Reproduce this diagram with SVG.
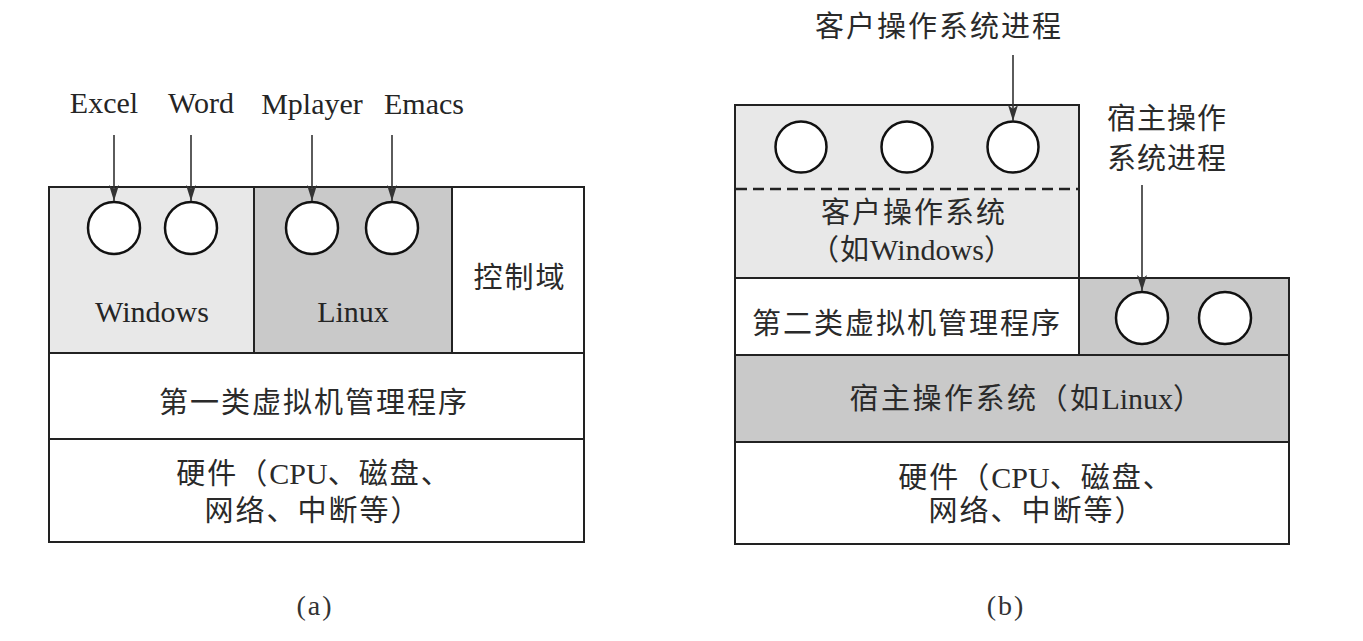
<svg xmlns="http://www.w3.org/2000/svg" width="1363" height="641" viewBox="0 0 1363 641">
<defs>
<style>
.bg{fill:#ffffff}
.box{stroke:#222;stroke-width:2}
.w{fill:#ffffff}
.light{fill:#e8e8e8}
.dark{fill:#c9c9c9}
.proc{fill:#ffffff;stroke:#111;stroke-width:2.5}
.lat{font-family:"Liberation Serif",serif;font-size:30px;fill:#252525}
.cjk{font-family:"Liberation Serif","Noto Sans CJK SC",sans-serif;font-size:29px;letter-spacing:2px;fill:#2a2a2a}
.tight{letter-spacing:0px;font-size:30px}
.cap{font-family:"Liberation Serif",serif;font-size:28px;letter-spacing:2px;fill:#333}
.conn{stroke:#333;stroke-width:1.6;fill:none;marker-end:url(#ah)}
.dash{stroke:#222;stroke-width:2.5;stroke-dasharray:11 6;fill:none}
</style>
<marker id="ah" viewBox="0 0 16 10" refX="16" refY="5" markerWidth="16" markerHeight="10" orient="auto" markerUnits="userSpaceOnUse">
<path d="M0,0 L16,5 L0,10 L4,5 z" fill="#333"/>
</marker>
</defs>
<rect class="bg" x="0" y="0" width="1363" height="641"/>

<!-- Diagram (a) -->
<g id="a-windows">
<rect class="box light" x="49" y="187" width="205" height="166"/>
<circle class="proc" cx="114" cy="228" r="26"/>
<circle class="proc" cx="191" cy="228" r="26"/>
<text class="lat" x="152" y="322" text-anchor="middle">Windows</text>
</g>
<g id="a-linux">
<rect class="box dark" x="254" y="187" width="198" height="166"/>
<circle class="proc" cx="312" cy="228" r="26"/>
<circle class="proc" cx="392" cy="228" r="26"/>
<text class="lat" x="353" y="322" text-anchor="middle">Linux</text>
</g>
<g id="a-control">
<rect class="box w" x="452" y="187" width="132" height="166"/>
<text class="cjk" x="520" y="288" text-anchor="middle">控制域</text>
</g>
<g id="a-hypervisor">
<rect class="box w" x="49" y="353" width="535" height="86"/>
<text class="cjk" x="314" y="413" text-anchor="middle">第一类虚拟机管理程序</text>
</g>
<g id="a-hardware">
<rect class="box w" x="49" y="439" width="535" height="103"/>
<text class="cjk" x="314" y="484" text-anchor="middle">硬件（<tspan class="tight">CPU</tspan>、磁盘、</text>
<text class="cjk" x="313" y="521" text-anchor="middle">网络、中断等）</text>
</g>
<g id="a-labels">
<text class="lat" x="104" y="113" text-anchor="middle">Excel</text>
<text class="lat" x="201" y="113" text-anchor="middle">Word</text>
<text class="lat" x="312" y="114" text-anchor="middle">Mplayer</text>
<text class="lat" x="424" y="114" text-anchor="middle">Emacs</text>
</g>
<g id="a-caption">
<text class="cap" x="315" y="615" text-anchor="middle">(a)</text>
</g>

<!-- Diagram (b) -->
<g id="b-guest">
<rect class="box light" x="735" y="105" width="344" height="173"/>
<circle class="proc" cx="801" cy="147" r="25.5"/>
<circle class="proc" cx="907" cy="147" r="25.5"/>
<circle class="proc" cx="1013" cy="147" r="25.5"/>
<line class="dash" x1="736" y1="189" x2="1078" y2="189"/>
<text class="cjk" x="914" y="223" text-anchor="middle">客户操作系统</text>
<text class="cjk" x="912" y="260" text-anchor="middle" style="letter-spacing:1px">（如<tspan class="tight">Windows</tspan>）</text>
</g>
<g id="b-hostproc">
<rect class="box dark" x="1079" y="278" width="210" height="77"/>
<circle class="proc" cx="1142" cy="318" r="26"/>
<circle class="proc" cx="1225" cy="318" r="26"/>
</g>
<g id="b-hypervisor">
<rect class="box w" x="735" y="278" width="344" height="77"/>
<text class="cjk" x="907" y="334" text-anchor="middle">第二类虚拟机管理程序</text>
</g>
<g id="b-hostos">
<rect class="box dark" x="735" y="355" width="554" height="87"/>
<text class="cjk" x="1027" y="409" text-anchor="middle" style="letter-spacing:2.5px">宿主操作系统（如<tspan class="tight">Linux</tspan>）</text>
</g>
<g id="b-hardware">
<rect class="box w" x="735" y="442" width="554" height="102"/>
<text class="cjk" x="1036" y="488" text-anchor="middle">硬件（<tspan class="tight">CPU</tspan>、磁盘、</text>
<text class="cjk" x="1037" y="521" text-anchor="middle">网络、中断等）</text>
</g>
<g id="b-labels">
<text class="cjk" x="939" y="37" text-anchor="middle">客户操作系统进程</text>
<text class="cjk" x="1167" y="129" text-anchor="middle" style="letter-spacing:1px">宿主操作</text>
<text class="cjk" x="1167" y="169" text-anchor="middle" style="letter-spacing:1px">系统进程</text>
</g>
<g id="b-caption">
<text class="cap" x="1006" y="615" text-anchor="middle">(b)</text>
</g>

<g id="connectors">
<line class="conn" x1="114" y1="135" x2="114" y2="201"/>
<line class="conn" x1="191" y1="135" x2="191" y2="201"/>
<line class="conn" x1="312" y1="135" x2="312" y2="201"/>
<line class="conn" x1="392" y1="135" x2="392" y2="201"/>
<line class="conn" x1="1013" y1="55" x2="1013" y2="121"/>
<line class="conn" x1="1142" y1="185" x2="1142" y2="291"/>
</g>
</svg>
